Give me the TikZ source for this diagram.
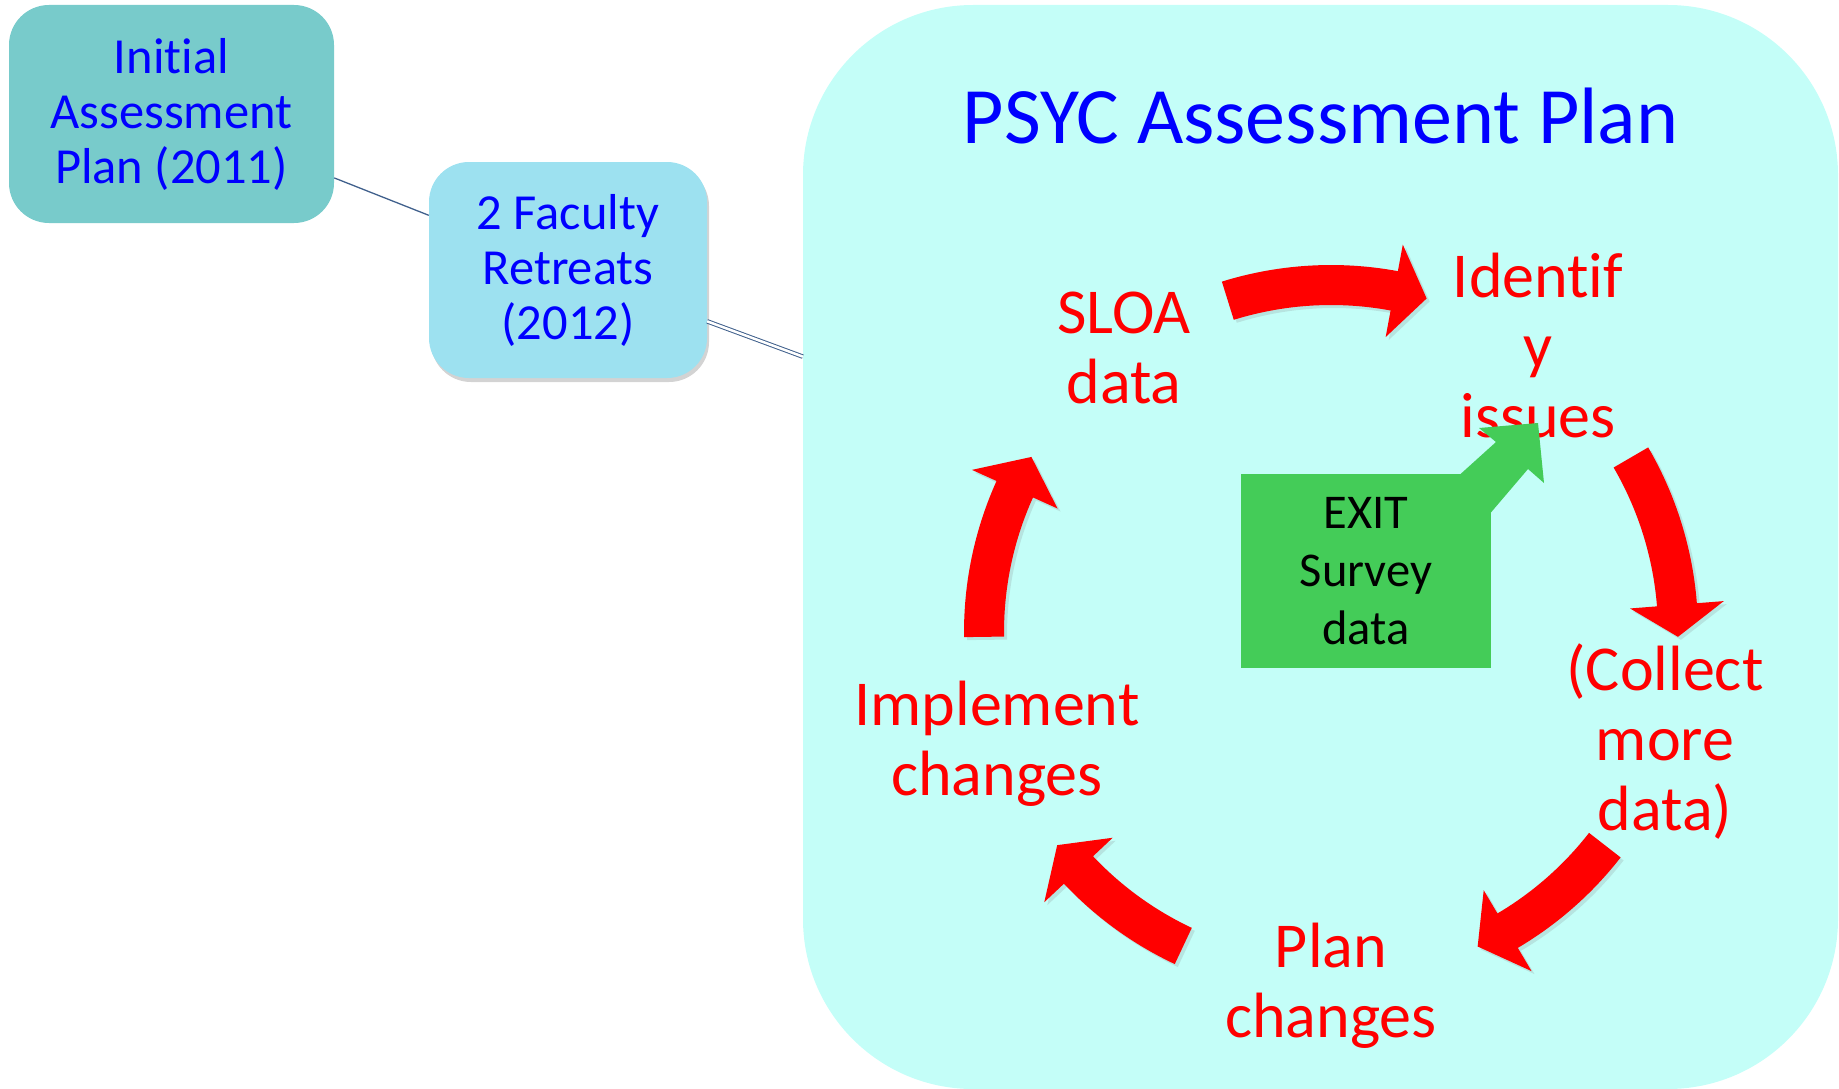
\documentclass[tikz,border=0pt]{standalone}
\usepackage{fontspec}
\setmainfont{Carlito}[Ligatures=NoCommon]
\usetikzlibrary{calc,shadows}
\definecolor{bigfill}{RGB}{196,254,248}
\definecolor{boxa}{RGB}{120,203,203}
\definecolor{boxb}{RGB}{157,225,240}
\definecolor{exitgreen}{RGB}{68,204,88}
\definecolor{linkcol}{RGB}{64,96,140}
\definecolor{cycred}{RGB}{255,0,0}
\definecolor{titleblue}{RGB}{0,0,255}
\newcommand\cycarrow[3]{%
  \path[cyc] ($(C)+(#1:367)$) arc[start angle=#1, end angle=#2, radius=367]
    -- ($(C)+(#2:394)$) -- ($(C)+(#3:347)$) -- ($(C)+(#2:300)$) -- ($(C)+(#2:327)$)
    arc[start angle=#2, end angle=#1, radius=327] -- cycle;}
\begin{document}
\begin{tikzpicture}[x=1pt,y=-1pt,
  topbox/.style={rounded corners=40pt, align=center, text=titleblue,
    font=\fontsize{50.5}{55}\selectfont, inner sep=0pt},
  lbl/.style={text=cycred, font=\fontsize{64}{70}\selectfont, align=center,
    anchor=base, inner sep=0pt},
  cyc/.style={fill=cycred, drop shadow={shadow xshift=3pt, shadow yshift=-3pt, opacity=0.2}},
  link/.style={draw=linkcol, line width=1.3pt}
]
\useasboundingbox (0,0) rectangle (1839,1089);
% big panel
\node[fill=bigfill, rounded corners=170pt, minimum width=1035pt, minimum height=1084pt,
  inner sep=0pt] (plan) at (1320.5,547) {};
\node[text=titleblue, font=\fontsize{80}{90}\selectfont, anchor=base, inner sep=0pt]
  (title) at (1320.5,143) {PSYC Assessment Plan};
% top-left boxes
\node[topbox, fill=boxa, minimum width=325pt, minimum height=218pt] (b1) at (171.5,114)
  {Initial\\Assessment\\Plan (2011)};
\node[topbox, fill=boxb, minimum width=278pt, minimum height=216pt,
  drop shadow={shadow xshift=2pt, shadow yshift=-4pt, opacity=0.35}] (b2) at (568,270)
  {2 Faculty\\Retreats\\(2012)};
\draw[link] (b1) -- (b2);
\draw[draw=linkcol, line width=1pt, double=white, double distance=2.5pt] (b2) -- (plan);
% cycle
\coordinate (C) at (1331,632);
\cycarrow{-107.3}{-79.5}{-74}
\cycarrow{-30.2}{-4.5}{0.8}
\cycarrow{37.9}{59.4}{65}
\cycarrow{115.2}{136.7}{142.1}
\cycarrow{-180.8}{-155.7}{-149.7}
\node[lbl] (sloa) at (1124,403) {SLOA\\data};
\node[lbl] (ident) at (1538,437) {Identif\\y\\issues};
\node[lbl] (collect) at (1665,830) {(Collect\\more\\data)};
\node[lbl] (planch) at (1331,1037) {Plan\\changes};
\node[lbl] (impl) at (997,795) {Implement\\changes};
% exit survey
\node[fill=exitgreen, minimum width=250pt, minimum height=194pt, inner sep=0pt,
  align=center, font=\fontsize{48.5}{58}\selectfont] (exit) at (1366,571)
  {EXIT\\Survey\\data};
\fill[exitgreen] (1460,474.5) -- (1496,442) -- (1479,428) -- (1538,423) -- (1544,483)
  -- (1528,469) -- (1490.5,513) -- (1490.5,474.5) -- cycle;
\end{tikzpicture}
\end{document}
